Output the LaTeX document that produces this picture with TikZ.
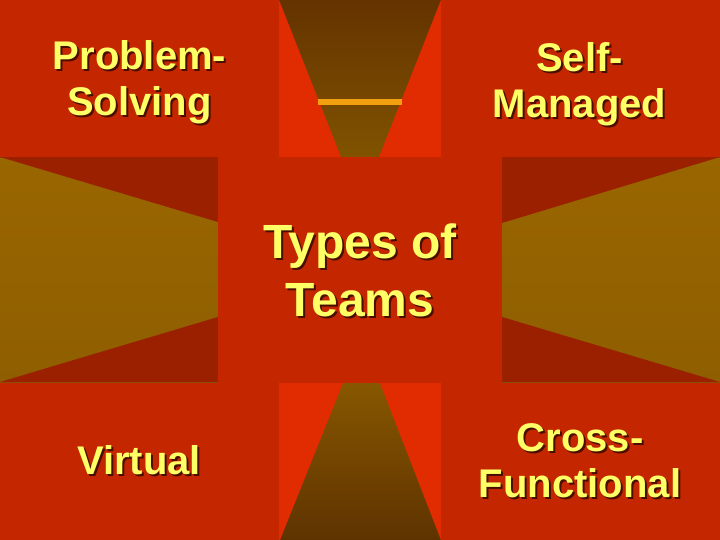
\documentclass[tikz,border=0pt]{standalone}
\usepackage{fontspec}
\setmainfont{Liberation Sans}
\definecolor{boxred}{HTML}{C42600}
\definecolor{brightred}{HTML}{E02C00}
\definecolor{darkred}{HTML}{9A2000}
\definecolor{gA}{HTML}{643300}
\definecolor{gB}{HTML}{805300}
\definecolor{gC}{HTML}{996600}
\definecolor{gD}{HTML}{8F5E00}
\definecolor{gE}{HTML}{875700}
\definecolor{gF}{HTML}{5E3300}
\definecolor{orangeline}{HTML}{F2A010}
\definecolor{txtyellow}{HTML}{FFFF66}
\definecolor{shadowc}{HTML}{4A0E00}
\tikzset{
  lbl/.style={text=txtyellow, font=\fontsize{40}{46}\selectfont\bfseries, align=center, inner sep=0pt},
  shd/.style={lbl, text=shadowc},
  big/.style={font=\fontsize{48}{58}\selectfont\bfseries}
}
\begin{document}
\begin{tikzpicture}[x=1pt,y=-1pt]
\useasboundingbox (0,0) rectangle (720,540);
% piecewise vertical gradient background drawn as thin strips
\foreach \i in {0,...,269} {
  \pgfmathsetmacro{\ya}{2*\i}
  \pgfmathsetmacro{\yc}{2*\i+1}
  \ifdim \yc pt < 158pt
    \pgfmathtruncatemacro{\p}{min(100,\yc/157*100)}
    \fill[gB!\p!gA] (0,\ya) rectangle (720,\ya+2.6);
  \else
    \ifdim \yc pt < 382pt
      \pgfmathtruncatemacro{\p}{min(100,(\yc-158)/224*100)}
      \fill[gD!\p!gC] (0,\ya) rectangle (720,\ya+2.6);
    \else
      \pgfmathtruncatemacro{\p}{min(100,(\yc-382)/158*100)}
      \fill[gF!\p!gE] (0,\ya) rectangle (720,\ya+2.6);
    \fi
  \fi
}
% bright red triangles
\fill[brightred] (279,0) -- (341,157) -- (279,157) -- cycle;
\fill[brightred] (441,0) -- (379,157) -- (441,157) -- cycle;
\fill[brightred] (279,383) -- (343,383) -- (280,540) -- (279,540) -- cycle;
\fill[brightred] (441,383) -- (380,383) -- (441,540) -- cycle;
% dark red triangles
\fill[darkred] (0,157) -- (218,157) -- (218,222) -- cycle;
\fill[darkred] (0,382) -- (218,317) -- (218,382) -- cycle;
\fill[darkred] (502,157) -- (720,157) -- (502,223) -- cycle;
\fill[darkred] (502,317) -- (720,382) -- (502,382) -- cycle;
% orange line
\fill[orangeline] (318,99.5) rectangle (402,105.5);
\fill[orangeline!80!boxred] (0,98) rectangle (2,106);
% boxes
\fill[boxred] (0,0) rectangle (279,157);
\fill[boxred] (441,0) rectangle (720,157);
\fill[boxred] (218,157) rectangle (502,383);
\fill[boxred] (0,383) rectangle (279,540);
\fill[boxred] (441,383) rectangle (720,540);
% labels with shadows
\node[shd] (ps-s) at (141.5,84.5) {Problem-\\Solving};
\node[lbl] (ps) at (139.5,82.5) {Problem-\\Solving};
\node[shd] (sm-s) at (581.5,86) {Self-\\Managed};
\node[lbl] (sm) at (579.5,84) {Self-\\Managed};
\node[shd,big] (tt-s) at (362,272.5) {Types of\\Teams};
\node[lbl,big] (tt) at (360,270.5) {Types of\\Teams};
\node[shd,anchor=base] (vt-s) at (141,476) {Virtual};
\node[lbl,anchor=base] (vt) at (139,474) {Virtual};
\node[shd] (cf-s) at (582,463) {Cross-\\Functional};
\node[lbl] (cf) at (580,461) {Cross-\\Functional};
\end{tikzpicture}
\end{document}
